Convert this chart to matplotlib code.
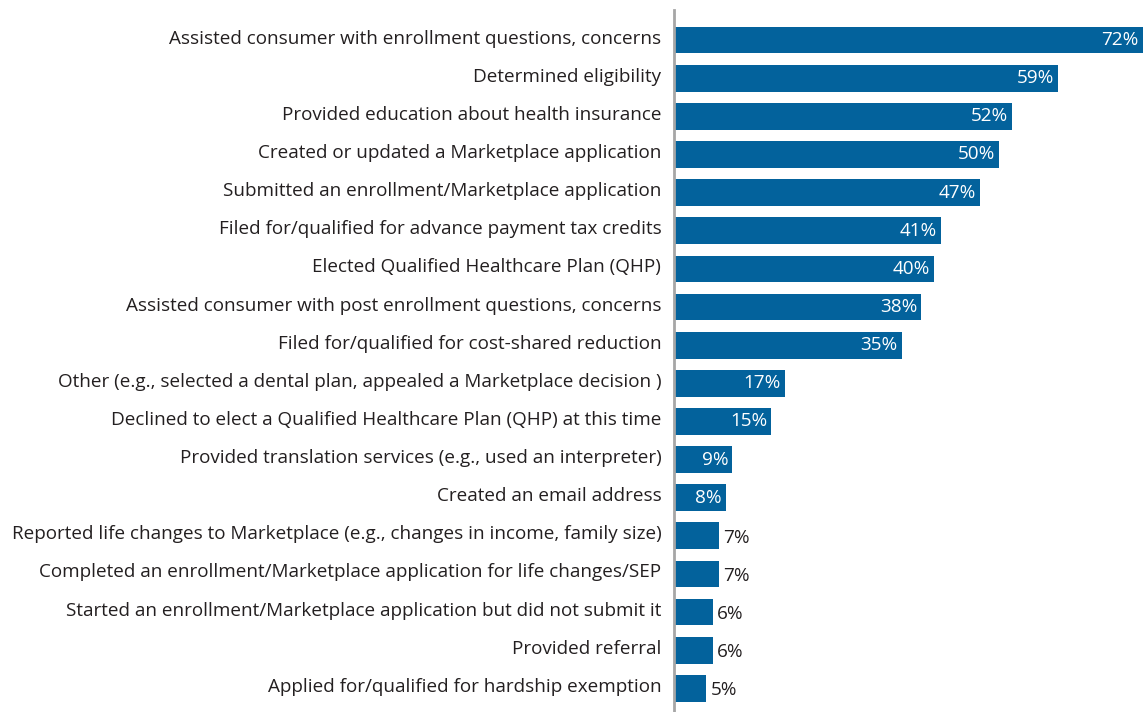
import matplotlib.pyplot as plt
from matplotlib.transforms import ScaledTranslation

categories = [
    "Assisted consumer with enrollment questions, concerns",
    "Determined eligibility",
    "Provided education about health insurance",
    "Created or updated a Marketplace application",
    "Submitted an enrollment/Marketplace application",
    "Filed for/qualified for advance payment tax credits",
    "Elected Qualified Healthcare Plan (QHP)",
    "Assisted consumer with post enrollment questions, concerns",
    "Filed for/qualified for cost-shared reduction",
    "Other (e.g., selected a dental plan, appealed a Marketplace decision )",
    "Declined to elect a Qualified Healthcare Plan (QHP) at this time",
    "Provided translation services (e.g., used an interpreter)",
    "Created an email address",
    "Reported life changes to Marketplace (e.g., changes in income, family size)",
    "Completed an enrollment/Marketplace application for life changes/SEP",
    "Started an enrollment/Marketplace application but did not submit it",
    "Provided referral",
    "Applied for/qualified for hardship exemption",
]
values = [72, 59, 52, 50, 47, 41, 40, 38, 35, 17, 15, 9, 8, 7, 7, 6, 6, 5]

BAR = "#03629c"
TEXT = "#231f20"
FS = 13.6
plt.rcParams["font.family"] = ["Open Sans", "DejaVu Sans"]

fig = plt.figure(figsize=(11.44, 7.12), dpi=100)
ax = fig.add_axes([0.589, 0.0, 0.411, 0.986])

y = list(range(len(categories)))
ax.barh(y, values, height=0.7, color=BAR)
ax.set_ylim(len(categories) - 1 + 0.62, -0.79)
ax.set_xlim(0, 72.2)

for yi, v in zip(y, values):
    if v >= 8:
        ax.annotate(f"{v}%", (v, yi), xytext=(-3, 0), textcoords="offset points",
                    ha="right", va="center", color="white", fontsize=FS)
    else:
        ax.annotate(f"{v}%", (v, yi), xytext=(3, -1.5), textcoords="offset points",
                    ha="left", va="center", color=TEXT, fontsize=FS)

ax.set_yticks(y)
ax.set_yticklabels(categories, fontsize=FS, color=TEXT)
ax.tick_params(axis="y", length=0, pad=9)
# labels sit a little above the bar centres in the original
shift = ScaledTranslation(0, 3.5 / 100, fig.dpi_scale_trans)
for lbl in ax.get_yticklabels():
    lbl.set_transform(lbl.get_transform() + shift)

ax.set_xticks([])
for side in ["top", "right", "bottom"]:
    ax.spines[side].set_visible(False)
ax.spines["left"].set_color("#a6a6a6")
ax.spines["left"].set_linewidth(2)

fig.savefig("out.png", dpi=100)
